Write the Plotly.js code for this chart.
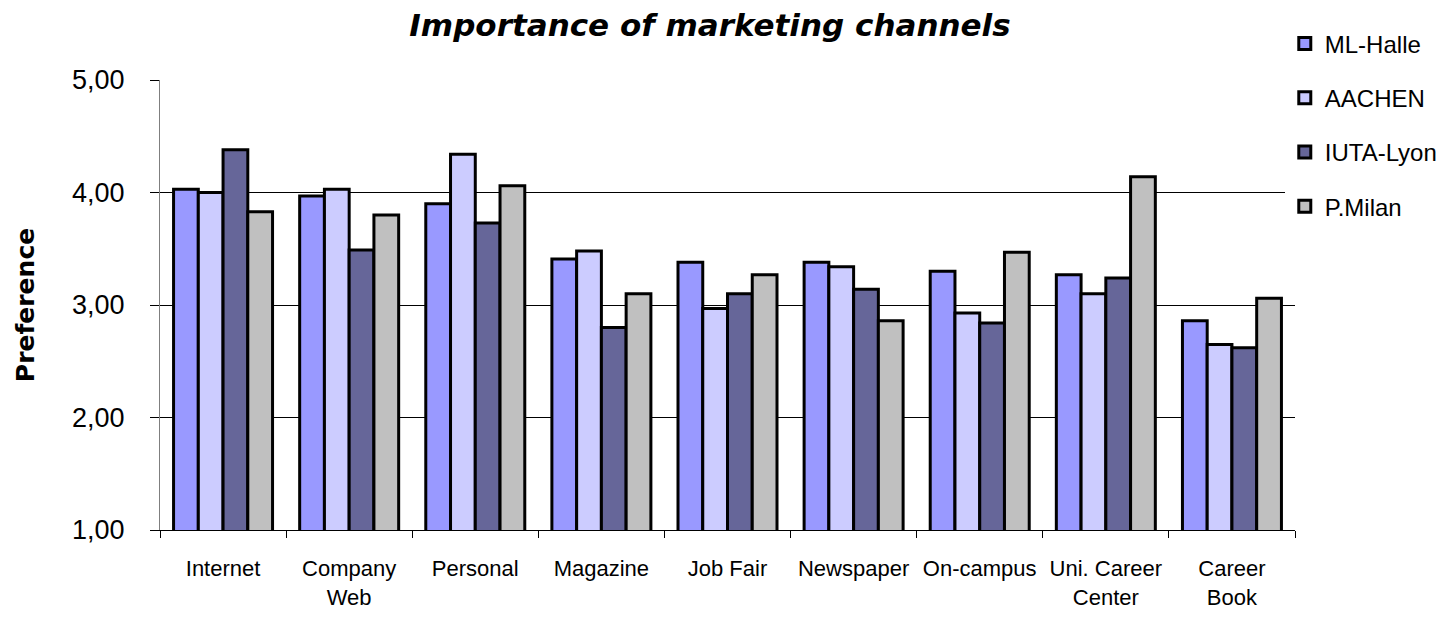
<!DOCTYPE html>
<html>
<head>
<meta charset="utf-8">
<script src="https://cdn.plot.ly/plotly-3.0.1.min.js"></script>
<style>html,body{margin:0;padding:0;background:#fff;}#chart{width:1446px;height:624px;}</style>
</head>
<body>
<div id="chart"></div>
<script>
const categories = ["Internet", "Company<br>Web", "Personal", "Magazine", "Job Fair", "Newspaper", "On-campus", "Uni. Career<br>Center", "Career<br>Book"];
const mlHalle  = [4.03, 3.97, 3.90, 3.41, 3.38, 3.38, 3.30, 3.27, 2.86];
const aachen   = [4.00, 4.03, 4.34, 3.48, 2.97, 3.34, 2.93, 3.10, 2.65];
const iutaLyon = [4.38, 3.49, 3.73, 2.80, 3.10, 3.14, 2.84, 3.24, 2.62];
const pMilan   = [3.83, 3.80, 4.06, 3.10, 3.27, 2.86, 3.47, 4.14, 3.06];
const seriesNames = ["ML-Halle", "AACHEN", "IUTA-Lyon", "P.Milan"];
const seriesColors = ["#9999FF", "#CCCCFF", "#666699", "#C0C0C0"];
const seriesValues = [mlHalle, aachen, iutaLyon, pMilan];
const yTickVals = [1, 2, 3, 4, 5];

const font = "Liberation Sans, Arial, sans-serif";
const wide = "DejaVu Sans, Verdana, sans-serif";
const traces = seriesValues.map((vals, i) => ({
  type: "bar",
  name: seriesNames[i],
  x: categories,
  y: vals,
  base: 0,
  legendgroup: "g" + i,
  marker: {color: seriesColors[i], line: {color: "#000000", width: 3}},
  hoverinfo: "x+y+name"
}));

const layout = {
  width: 1446, height: 624,
  paper_bgcolor: "#ffffff", plot_bgcolor: "#ffffff",
  margin: {l: 160, r: 151, t: 80, b: 94, autoexpand: false},
  barmode: "group", bargap: 0.215, bargroupgap: 0,
  separators: ",.",
  font: {family: font, color: "#000000"},
  title: {
    text: "<b><i>Importance of marketing channels</i></b>",
    font: {family: wide, size: 31, color: "#000000"},
    x: 0.491, xref: "container", xanchor: "center",
    y: 0.96, yref: "container", yanchor: "middle"
  },
  xaxis: {
    type: "category", tickangle: 0,
    showline: true, linecolor: "#000000", linewidth: 1,
    ticks: "outside", tickson: "boundaries", ticklen: 7, tickcolor: "#000000", tickwidth: 1,
    tickfont: {family: font, size: 22, color: "#000000"},
    ticklabelstandoff: 19,
    showgrid: false, zeroline: false, fixedrange: true, automargin: false
  },
  yaxis: {
    range: [1, 5], tickvals: yTickVals, tickformat: ".2f",
    showline: true, linecolor: "#7f7f7f", linewidth: 1,
    ticks: "outside", ticklen: 9, tickcolor: "#000000", tickwidth: 1,
    tickfont: {family: font, size: 27, color: "#000000"},
    ticklabelstandoff: 20,
    showgrid: true, gridcolor: "#000000", gridwidth: 1,
    zeroline: false, fixedrange: true, automargin: false,
    title: {text: "<b>Preference</b>", font: {family: wide, size: 25, color: "#000000"}, standoff: 30}
  },
  legend: {
    x: 0.991, xanchor: "left", y: 1.13, yanchor: "top",
    bgcolor: "#ffffff", borderwidth: 0,
    font: {family: font, size: 24, color: "#000000"},
    tracegroupgap: 20, traceorder: "grouped"
  },
  showlegend: true
};

Plotly.newPlot("chart", traces, layout, {displayModeBar: false, staticPlot: true});
</script>
</body>
</html>
